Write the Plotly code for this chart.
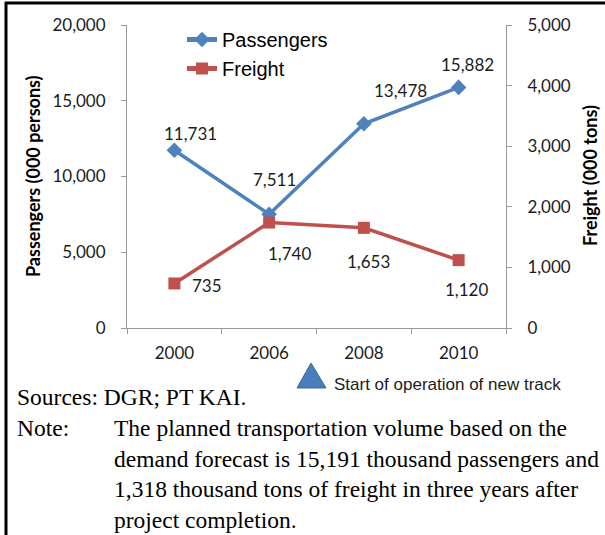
import plotly.graph_objects as go

years = ["2000", "2006", "2008", "2010"]
passengers = [11731, 7511, 13478, 15882]
freight = [735, 1740, 1653, 1120]
pass_label_shift = [(16, 17), (5, 35), (37, 33), (9, 23)]
freight_label_shift = [(33, -2), (20, -31), (5, -34), (8, -29)]

BLUE = "#4F81BD"
RED = "#C0504D"
AXIS = "#9A9A9A"
TXT = "#1c1c1c"

W, H = 605, 535
L, R, T, B = 127, 506, 25, 328


def px(x):
    return (x - L) / (R - L)


def py(y):
    return (B - y) / (B - T)


fig = go.Figure()
fig.add_trace(go.Scatter(
    x=years, y=passengers, name="Passengers", mode="lines+markers",
    line=dict(color=BLUE, width=3.5),
    marker=dict(symbol="diamond", size=12, color=BLUE),
    yaxis="y", cliponaxis=False))
fig.add_trace(go.Scatter(
    x=years, y=freight, name="Freight", mode="lines+markers",
    line=dict(color=RED, width=3.5),
    marker=dict(symbol="square", size=12, color=RED),
    yaxis="y2", cliponaxis=False))

annotations = []
for i, (v, (dx, dy)) in enumerate(zip(passengers, pass_label_shift)):
    annotations.append(dict(x=i, y=v, xref="x", yref="y", text=f"{v:,}",
                            showarrow=False, xshift=dx, yshift=dy,
                            xanchor="center", yanchor="middle",
                            font=dict(family="Lato", size=17, color=TXT)))
for i, (v, (dx, dy)) in enumerate(zip(freight, freight_label_shift)):
    annotations.append(dict(x=i, y=v, xref="x", yref="y2", text=f"{v:,}",
                            showarrow=False, xshift=dx, yshift=dy,
                            xanchor="center", yanchor="middle",
                            font=dict(family="Lato", size=17, color=TXT)))

# axis titles
annotations.append(dict(x=px(33), y=py(176), xref="paper", yref="paper",
                        xanchor="center", yanchor="middle",
                        text="<b>Passengers (000 persons)</b>", textangle=-90,
                        showarrow=False, font=dict(family="Lato", size=18, color="#000")))
annotations.append(dict(x=px(590), y=py(176), xref="paper", yref="paper",
                        xanchor="center", yanchor="middle",
                        text="<b>Freight (000 tons)</b>", textangle=-90,
                        showarrow=False, font=dict(family="Lato", size=18, color="#000")))

# marker note
annotations.append(dict(x=px(332), y=py(384), xref="paper", yref="paper",
                        xanchor="left", yanchor="middle",
                        text="Start of operation of new track", showarrow=False,
                        font=dict(family="Liberation Sans", size=17, color=TXT)))

serif = dict(family="Liberation Serif", size=23.5, color="#000")
annotations.append(dict(x=px(15), y=py(397), xref="paper", yref="paper",
                        xanchor="left", yanchor="middle", showarrow=False,
                        text="Sources: DGR; PT KAI.", font=serif))
annotations.append(dict(x=px(15), y=py(428), xref="paper", yref="paper",
                        xanchor="left", yanchor="middle", showarrow=False,
                        text="Note:", font=serif))
note_lines = ["The planned transportation volume based on the",
              "demand forecast is 15,191 thousand passengers and",
              "1,318 thousand tons of freight in three years after",
              "project completion."]
for i, line in enumerate(note_lines):
    annotations.append(dict(x=px(112), y=py(428 + 30.5 * i), xref="paper", yref="paper",
                            xanchor="left", yanchor="middle", showarrow=False,
                            text=line, font=serif))

shapes = [
    # frame (top and left edges)
    dict(type="line", xref="paper", yref="paper", x0=px(5), x1=px(610), y0=py(3), y1=py(3),
         line=dict(color="#000", width=3)),
    dict(type="line", xref="paper", yref="paper", x0=px(6), x1=px(6), y0=py(2), y1=py(540),
         line=dict(color="#000", width=3)),
    # triangle
    dict(type="path", xref="paper", yref="paper",
         path=f"M {px(311)} {py(363)} L {px(326)} {py(388)} L {px(297)} {py(388)} Z",
         fillcolor="#4A7EBB", line=dict(color="#3A6496", width=1)),
]

fig.update_layout(
    width=W, height=H,
    margin=dict(l=L, r=W - R, t=T, b=H - B),
    paper_bgcolor="white", plot_bgcolor="white",
    showlegend=True,
    legend=dict(x=px(182), y=py(20), xanchor="left", yanchor="top",
                bgcolor="rgba(0,0,0,0)", font=dict(family="Liberation Sans", size=20, color="#000"),
                tracegroupgap=0, itemsizing="constant"),
    xaxis=dict(type="category", range=[-0.5, 3.5], showline=True, linecolor=AXIS, linewidth=1,
               ticks="outside", tickson="boundaries", ticklen=5, tickcolor=AXIS,
               showgrid=False, zeroline=False, ticklabelstandoff=10,
               tickfont=dict(family="Lato", size=17, color=TXT)),
    yaxis=dict(range=[0, 20000], dtick=5000, tickformat=",", showline=True, linecolor=AXIS,
               ticks="outside", ticklen=5, tickcolor=AXIS, showgrid=False, zeroline=False,
               ticklabelstandoff=12, tickfont=dict(family="Lato", size=17, color=TXT)),
    yaxis2=dict(range=[0, 5000], dtick=1000, tickformat=",", overlaying="y", side="right",
                showline=True, linecolor=AXIS, ticks="outside", ticklen=5, tickcolor=AXIS,
                showgrid=False, zeroline=False, ticklabelstandoff=12,
                tickfont=dict(family="Lato", size=17, color=TXT)),
    annotations=annotations,
    shapes=shapes,
)

fig.write_html("out.html", config={"displayModeBar": False},
               post_script="document.body.style.margin='0px';")
